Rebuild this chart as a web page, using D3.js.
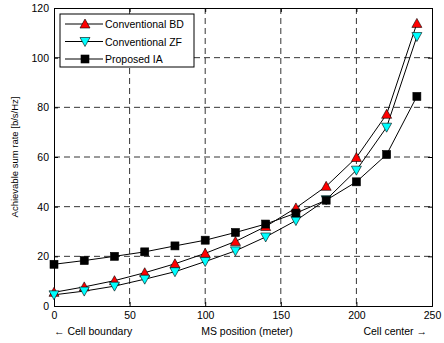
<!DOCTYPE html>
<html>
<head>
<meta charset="utf-8">
<script src="https://cdn.jsdelivr.net/npm/d3@7"></script>
<style>
  body { margin: 0; background: #fff; }
  svg text { font-family: "Liberation Sans", Arial, sans-serif; }
</style>
</head>
<body>
<svg id="chart"></svg>
<script>
// MS positions (meter)
var positions = [0, 20, 40, 60, 80, 100, 120, 140, 160, 180, 200, 220, 240];

// sum rate per scheme [b/s/Hz]
var conventionalBD = [5.5, 7.7, 10.2, 13.4, 17, 21.2, 26, 32, 39.5, 48.2, 59.8, 77.2, 113.8];
var conventionalZF = [4.5, 6, 8, 10.8, 13.8, 17.9, 22.2, 27.8, 34.4, 42.8, 54.7, 72, 108.5];
var proposedIA     = [16.8, 18.3, 20, 21.8, 24.2, 26.5, 29.6, 33, 37.4, 42.6, 50, 61, 84.4];

var seriesNames = ["Conventional BD", "Conventional ZF", "Proposed IA"];
var xTicks = [0, 50, 100, 150, 200, 250];
var yTicks = [0, 20, 40, 60, 80, 100, 120];

var margin = {top: 8, right: 12, bottom: 37, left: 54},
    W = 444, H = 343,
    width = W - margin.left - margin.right,
    height = H - margin.top - margin.bottom;

var svg = d3.select("#chart")
    .attr("width", W)
    .attr("height", H);

var g = svg.append("g")
    .attr("transform", "translate(" + margin.left + "," + margin.top + ")");

var x = d3.scaleLinear().domain([0, 250]).range([0, width]);
var y = d3.scaleLinear().domain([0, 120]).range([height, 0]);

// grid
g.append("g").selectAll("line.vg")
    .data(xTicks.slice(1, -1))
    .join("line")
    .attr("x1", function(d) { return x(d); })
    .attr("x2", function(d) { return x(d); })
    .attr("y1", 0).attr("y2", height)
    .attr("stroke", "#000").attr("stroke-width", 0.8)
    .attr("stroke-dasharray", "6,4");
g.append("g").selectAll("line.hg")
    .data(yTicks.slice(1, -1))
    .join("line")
    .attr("x1", 0).attr("x2", width)
    .attr("y1", function(d) { return y(d); })
    .attr("y2", function(d) { return y(d); })
    .attr("stroke", "#000").attr("stroke-width", 0.8)
    .attr("stroke-dasharray", "6,4");

// axes
var xAxis = g.append("g")
    .attr("transform", "translate(0," + height + ")")
    .call(d3.axisBottom(x).tickValues(xTicks).tickSize(-4).tickPadding(6));
var yAxis = g.append("g")
    .call(d3.axisLeft(y).tickValues(yTicks).tickSize(-4).tickPadding(5));
var xTop = g.append("g")
    .call(d3.axisTop(x).tickValues(xTicks).tickSize(-4).tickFormat(""));
var yRight = g.append("g")
    .attr("transform", "translate(" + width + ",0)")
    .call(d3.axisRight(y).tickValues(yTicks).tickSize(-4).tickFormat(""));
[xAxis, yAxis, xTop, yRight].forEach(function(a) {
    a.select(".domain").attr("stroke", "#000").attr("stroke-width", 1);
    a.selectAll("text").attr("font-size", 10.5).attr("fill", "#000");
});

// lines and markers
var all = [conventionalBD, conventionalZF, proposedIA];
var line = d3.line()
    .x(function(d, i) { return x(positions[i]); })
    .y(function(d) { return y(d); });

var markers = [
    {type: "up", fill: "#ff0000"},
    {type: "down", fill: "#00ffff"},
    {type: "square", fill: "#000"}
];

function drawMarker(sel, m) {
    if (m.type === "square") {
        sel.append("rect")
            .attr("x", -4).attr("y", -4).attr("width", 8).attr("height", 8)
            .attr("fill", m.fill).attr("stroke", "#000").attr("stroke-width", 0.6);
    } else {
        var p = m.type === "up" ? "M0,-5L5,4L-5,4Z" : "M0,5L5,-4L-5,-4Z";
        sel.append("path").attr("d", p)
            .attr("fill", m.fill).attr("stroke", "#000").attr("stroke-width", 0.6);
    }
}

all.forEach(function(vals, k) {
    g.append("path")
        .datum(vals)
        .attr("d", line)
        .attr("fill", "none")
        .attr("stroke", "#000")
        .attr("stroke-width", 1);
});
all.forEach(function(vals, k) {
    g.append("g").selectAll("g")
        .data(vals)
        .join("g")
        .attr("transform", function(d, i) { return "translate(" + x(positions[i]) + "," + y(d) + ")"; })
        .each(function() { drawMarker(d3.select(this), markers[k]); });
});

// legend
var leg = g.append("g").attr("transform", "translate(6,6)");
leg.append("rect")
    .attr("width", 134).attr("height", 53)
    .attr("fill", "#fff").attr("stroke", "#000").attr("stroke-width", 1);
seriesNames.forEach(function(name, k) {
    var ly = 10 + k * 17.5;
    leg.append("line")
        .attr("x1", 5).attr("x2", 43).attr("y1", ly).attr("y2", ly)
        .attr("stroke", "#000").attr("stroke-width", 1);
    var mg = leg.append("g").attr("transform", "translate(25," + ly + ")");
    drawMarker(mg, markers[k]);
    leg.append("text")
        .attr("x", 45).attr("y", ly + 4)
        .attr("font-size", 10.5)
        .text(name);
});

// labels
svg.append("text")
    .attr("transform", "translate(18," + (margin.top + height / 2) + ") rotate(-90)")
    .attr("text-anchor", "middle")
    .attr("font-size", 9.5)
    .text("Achievable sum rate [b/s/Hz]");
svg.append("text")
    .attr("x", 247).attr("y", 335)
    .attr("text-anchor", "middle")
    .attr("font-size", 10.5)
    .text("MS position (meter)");
svg.append("text")
    .attr("x", 54).attr("y", 335)
    .attr("font-size", 10.5)
    .text("\u2190 Cell boundary");
svg.append("text")
    .attr("x", 427).attr("y", 335)
    .attr("text-anchor", "end")
    .attr("font-size", 10.5)
    .text("Cell center \u2192");
</script>
</body>
</html>
